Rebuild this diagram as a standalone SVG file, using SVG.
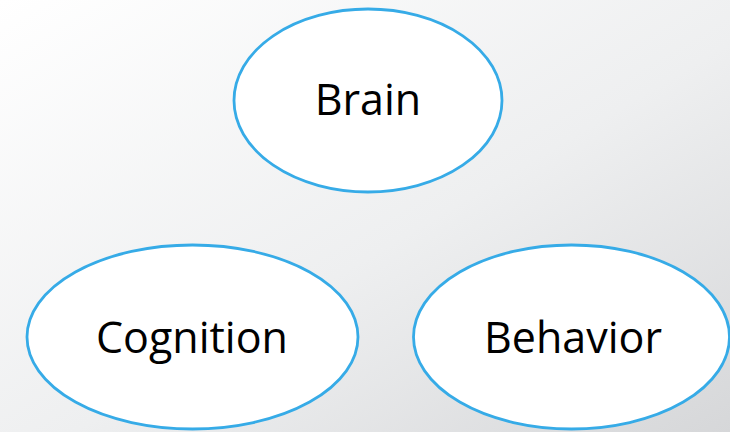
<svg xmlns="http://www.w3.org/2000/svg" width="730" height="432" viewBox="0 0 730 432">
  <defs>
    <linearGradient id="bg" x1="0" y1="0" x2="1" y2="1">
      <stop offset="0" stop-color="#ffffff"/>
      <stop offset="0.55" stop-color="#eeeff0"/>
      <stop offset="1" stop-color="#d6d7d9"/>
    </linearGradient>
    <style>
      .node ellipse { fill: #ffffff; stroke: #36abe7; stroke-width: 2.8; }
      .node text { font-family: "Open Sans", "Noto Sans", "Liberation Sans", sans-serif; font-size: 43px; fill: #000000; text-anchor: middle; }
    </style>
  </defs>
  <rect width="730" height="432" fill="url(#bg)"/>
  <g id="connectors"></g>
  <g id="brain" class="node">
    <ellipse cx="368" cy="100.5" rx="134" ry="91.5"/>
    <text x="368" y="115">Brain</text>
  </g>
  <g id="cognition" class="node">
    <ellipse cx="192.5" cy="337" rx="165.5" ry="92"/>
    <text x="192" y="353">Cognition</text>
  </g>
  <g id="behavior" class="node">
    <ellipse cx="571.5" cy="337" rx="158" ry="92"/>
    <text x="573" y="353">Behavior</text>
  </g>
</svg>
